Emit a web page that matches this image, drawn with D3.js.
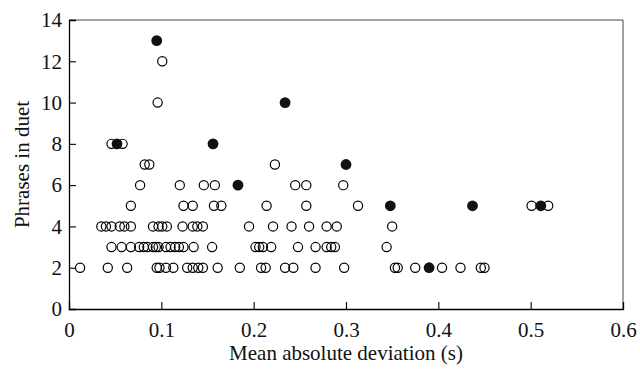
<!DOCTYPE html>
<html>
<head>
<meta charset="utf-8">
<script src="https://cdn.jsdelivr.net/npm/d3@7"></script>
<style>
  body { margin: 0; background: #fff; }
  text { font-family: "Liberation Serif", "DejaVu Serif", serif; fill: #111; }
</style>
</head>
<body>
<div id="chart"></div>
<script>
// mean absolute deviation (s) of open circles, grouped by phrases in duet
const open2 = [0.012, 0.042, 0.063, 0.095, 0.098, 0.105, 0.113, 0.128, 0.134, 0.140, 0.145, 0.161, 0.185,
  0.208, 0.213, 0.234, 0.243, 0.267, 0.298, 0.353, 0.356, 0.375, 0.404, 0.424, 0.446, 0.450];
const open3 = [0.046, 0.057, 0.067, 0.076, 0.081, 0.085, 0.091, 0.094, 0.097, 0.105, 0.110, 0.115, 0.119,
  0.124, 0.135, 0.155, 0.202, 0.206, 0.210, 0.219, 0.248, 0.267, 0.279, 0.284, 0.288, 0.344];
const open4 = [0.035, 0.040, 0.046, 0.055, 0.060, 0.067, 0.091, 0.097, 0.101, 0.106, 0.123, 0.134, 0.139,
  0.145, 0.195, 0.221, 0.241, 0.260, 0.279, 0.290, 0.350];
const open5 = [0.067, 0.124, 0.134, 0.157, 0.165, 0.214, 0.257, 0.313, 0.501, 0.519];
const open6 = [0.077, 0.120, 0.146, 0.158, 0.245, 0.257, 0.297];
const open7 = [0.082, 0.087, 0.223];
const open8 = [0.046, 0.058];
const open10 = [0.096];
const open12 = [0.101];

// filled circles
const filledMAD = [0.095, 0.052, 0.156, 0.234, 0.183, 0.300, 0.348, 0.437, 0.511, 0.390];
const filledPhrases = [13, 8, 8, 10, 6, 7, 5, 5, 5, 2];

const xTicks = [0, 0.1, 0.2, 0.3, 0.4, 0.5, 0.6];
const yTicks = [0, 2, 4, 6, 8, 10, 12, 14];

const width = 640, height = 372;
const margin = { top: 20, right: 17, bottom: 63, left: 69 };

const openRows = [[2, open2], [3, open3], [4, open4], [5, open5], [6, open6],
  [7, open7], [8, open8], [10, open10], [12, open12]];
const openPts = [];
openRows.forEach(([p, xs]) => xs.forEach(x => openPts.push({ x: x, y: p })));
const filledPts = filledMAD.map((x, i) => ({ x: x, y: filledPhrases[i] }));

const svg = d3.select("#chart").append("svg")
  .attr("width", width)
  .attr("height", height);

const x = d3.scaleLinear().domain([0, 0.6]).range([margin.left, width - margin.right]);
const y = d3.scaleLinear().domain([0, 14]).range([height - margin.bottom, margin.top]);

// frame: top and right
svg.append("path")
  .attr("d", `M${x(0)},${y(14)}H${x(0.6)}V${y(0)}`)
  .attr("fill", "none")
  .attr("stroke", "#444")
  .attr("stroke-width", 1);

// x axis, ticks pointing inward
const xAxis = svg.append("g")
  .attr("transform", `translate(0,${y(0)})`)
  .call(d3.axisBottom(x).tickValues(xTicks).tickSize(-7).tickPadding(13)
    .tickFormat(d => d === 0 ? "0" : d3.format(".1f")(d)));
xAxis.select(".domain").attr("stroke", "#000").attr("stroke-width", 1.3);
xAxis.selectAll(".tick line").attr("stroke", "#000").attr("stroke-width", 1.1)
  .filter(d => d === 0 || d === 0.6).remove();
xAxis.selectAll(".tick text").attr("font-size", 21).attr("font-family", null);

const yAxis = svg.append("g")
  .attr("transform", `translate(${x(0)},0)`)
  .call(d3.axisLeft(y).tickValues(yTicks).tickSize(-7).tickPadding(7));
yAxis.select(".domain").attr("stroke", "#000").attr("stroke-width", 1.3);
yAxis.selectAll(".tick line").attr("stroke", "#000").attr("stroke-width", 1.1)
  .filter(d => d === 0 || d === 14).remove();
yAxis.selectAll(".tick text").attr("font-size", 21).attr("font-family", null);

// axis titles
svg.append("text")
  .attr("x", (x(0) + x(0.6)) / 2)
  .attr("y", 360)
  .attr("text-anchor", "middle")
  .attr("font-size", 21)
  .text("Mean absolute deviation (s)");

svg.append("text")
  .attr("transform", `translate(22,${(y(0) + y(14)) / 2}) rotate(-90)`)
  .attr("text-anchor", "middle")
  .attr("dy", "0.35em")
  .attr("font-size", 21)
  .text("Phrases in duet");

// points
svg.selectAll("circle.open")
  .data(openPts)
  .join("circle")
  .attr("class", "open")
  .attr("cx", d => x(d.x))
  .attr("cy", d => y(d.y))
  .attr("r", 4.6)
  .attr("fill", "none")
  .attr("stroke", "#000")
  .attr("stroke-width", 1.2);

svg.selectAll("circle.filled")
  .data(filledPts)
  .join("circle")
  .attr("class", "filled")
  .attr("cx", d => x(d.x))
  .attr("cy", d => y(d.y))
  .attr("r", 5.4)
  .attr("fill", "#111");
</script>
</body>
</html>
